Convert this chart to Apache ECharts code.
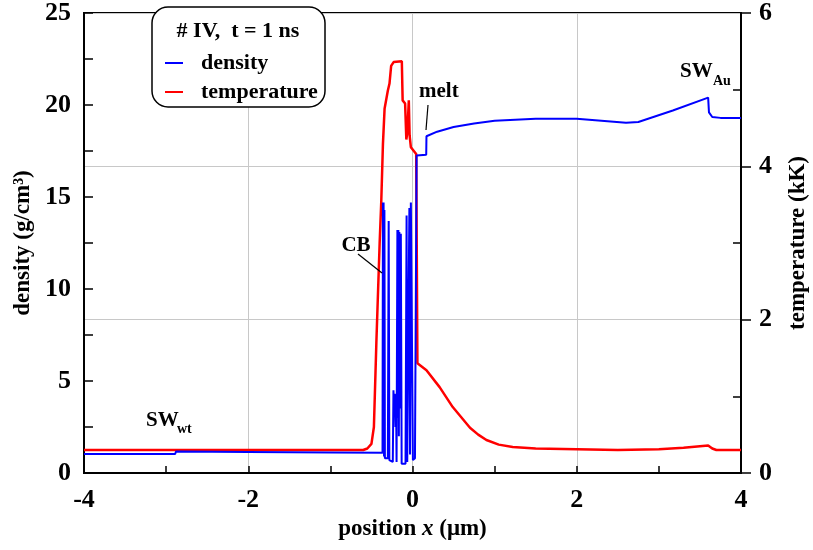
<!DOCTYPE html>
<html>
<head>
<meta charset="utf-8">
<script src="https://cdn.jsdelivr.net/npm/echarts@6/dist/echarts.min.js"></script>
<style>html,body{margin:0;padding:0;background:#fff}#c{width:813px;height:550px}</style>
</head>
<body>
<div id="c"></div>
<script>
// ---- data (position in µm) ----
const densityX = [-4.0,-2.89,-2.88,-2.0,-1.0,-0.365,-0.360,-0.356,-0.352,-0.347,-0.342,-0.336,-0.325,-0.300,-0.290,-0.282,-0.262,-0.240,-0.232,-0.224,-0.216,-0.208,-0.200,-0.194,-0.184,-0.178,-0.172,-0.166,-0.160,-0.150,-0.142,-0.132,-0.085,-0.072,-0.064,-0.050,-0.038,-0.030,-0.020,-0.008,0.005,0.030,0.050,0.167,0.170,0.30,0.50,0.75,1.0,1.5,2.0,2.3,2.6,2.75,3.17,3.60,3.61,3.65,3.75,4.0];
const densityY = [1.03,1.03,1.17,1.14,1.12,1.10,14.7,1.2,14.7,0.9,14.3,0.8,0.8,0.8,13.7,0.7,0.6,0.6,4.5,3.6,4.3,2.5,4.0,0.6,13.2,3.0,13.2,2.0,13.1,3.5,13.0,0.5,0.5,14.0,0.6,0.6,14.4,1.0,14.7,14.7,0.7,0.8,17.25,17.3,18.3,18.55,18.8,19.0,19.14,19.25,19.25,19.15,19.03,19.08,19.7,20.4,19.6,19.35,19.3,19.3];
const tempX = [-4.0,-2.0,-0.6,-0.55,-0.5,-0.47,-0.44,-0.40,-0.38,-0.36,-0.34,-0.30,-0.28,-0.26,-0.23,-0.13,-0.12,-0.09,-0.075,-0.062,-0.045,-0.035,-0.02,0.045,0.06,0.17,0.33,0.49,0.70,0.80,0.90,1.05,1.22,1.5,2.0,2.5,3.0,3.3,3.6,3.65,3.7,4.0];
const tempY = [0.30,0.30,0.30,0.32,0.38,0.6,1.7,3.0,3.55,4.29,4.75,4.99,5.08,5.31,5.36,5.37,4.86,4.82,4.35,4.45,4.86,4.4,4.25,4.16,1.43,1.34,1.12,0.86,0.59,0.5,0.43,0.37,0.34,0.32,0.31,0.30,0.31,0.33,0.36,0.32,0.30,0.30];
const legendTitle = '# IV,  t = 1 ns';
const seriesNames = ['density','temperature'];

const F = "'Liberation Serif','Times New Roman',serif";
const densityData = densityX.map((x,i)=>[x,densityY[i]]);
const tempData = tempX.map((x,i)=>[x,tempY[i]]);

const chart = echarts.init(document.getElementById('c'));
const lbl = {fontFamily:F,fontWeight:'bold',fontSize:26,color:'#000'};
const nm = {fontFamily:F,fontWeight:'bold',fontSize:23,color:'#000'};
chart.setOption({
  animation:false,
  backgroundColor:'#fff',
  grid:{left:84,right:72,top:13,bottom:77,containLabel:false,outerBoundsMode:'none',show:true,borderColor:'#000',borderWidth:2,backgroundColor:'transparent'},
  legend:{
    data:seriesNames, orient:'vertical', left:160, top:47, z:30,
    icon:'rect', itemWidth:18, itemHeight:2, itemGap:7,
    textStyle:{fontFamily:F,fontWeight:'bold',fontSize:22,color:'#000',lineHeight:22,padding:[0,0,0,13]}
  },
  xAxis:{
    type:'value', min:-4, max:4, interval:2,
    name:'{a|position }{b|x}{a| (μm)}', nameLocation:'middle', nameGap:44,
    nameTextStyle:{rich:{a:nm,b:Object.assign({},nm,{fontStyle:'italic'})}},
    axisLine:{onZero:false,lineStyle:{color:'#000',width:2}},
    axisTick:{inside:true,length:7,lineStyle:{color:'#000',width:1.5}},
    minorTick:{show:true,splitNumber:2,length:7,lineStyle:{color:'#000',width:1.5}},
    axisLabel:Object.assign({margin:14},lbl),
    splitLine:{show:true,lineStyle:{color:'#c8c8c8',width:1}}
  },
  yAxis:[
    {type:'value',position:'left',min:0,max:25,interval:5,
     name:'density (g/cm³)',nameLocation:'middle',nameGap:48,nameTextStyle:nm,
     axisLine:{show:true,onZero:false,lineStyle:{color:'#000',width:2}},
     axisTick:{inside:true,length:9,lineStyle:{color:'#000',width:1.5}},
     minorTick:{show:true,splitNumber:2,length:9,lineStyle:{color:'#000',width:1.5}},
     axisLabel:Object.assign({margin:13},lbl),
     splitLine:{show:false}},
    {type:'value',position:'right',min:0,max:6,interval:2,
     name:'temperature (kK)',nameLocation:'middle',nameGap:46,nameRotate:90,nameTextStyle:nm,
     axisLine:{show:true,onZero:false,lineStyle:{color:'#000',width:2}},
     axisTick:{inside:false,length:10,lineStyle:{color:'#000',width:1.5}},
     axisLabel:Object.assign({margin:18},lbl),
     splitLine:{show:true,lineStyle:{color:'#c8c8c8',width:1}}},
    {type:'value',position:'right',min:0,max:6,interval:2,
     axisLine:{show:false,onZero:false},
     axisTick:{show:true,inside:true,length:8,customValues:[1,3,5],lineStyle:{color:'#000',width:1.5}},
     axisLabel:{show:false},splitLine:{show:false}}
  ],
  series:[
    {name:'temperature',type:'line',yAxisIndex:1,data:tempData,showSymbol:false,symbol:'none',
     lineStyle:{color:'#ff0000',width:2.5},itemStyle:{color:'#ff0000'},z:3},
    {name:'density',type:'line',yAxisIndex:0,data:densityData,showSymbol:false,symbol:'none',
     lineStyle:{color:'#0000ff',width:2},itemStyle:{color:'#0000ff'},z:4}
  ],
  graphic:[
    {type:'rect',z:20,shape:{x:152,y:7,width:173,height:100,r:16},style:{fill:'#fff',stroke:'#000',lineWidth:1.5}},
    {type:'text',z:30,style:{x:238,y:31,text:legendTitle,fontFamily:F,fontWeight:'bold',fontSize:22,fill:'#000',align:'center',verticalAlign:'middle'}},
    {type:'text',z:30,style:{x:419,y:92,text:'melt',fontFamily:F,fontWeight:'bold',fontSize:21,fill:'#000',align:'left',verticalAlign:'middle'}},
    {type:'line',z:30,shape:{x1:428,y1:105,x2:426,y2:130},style:{stroke:'#000',lineWidth:1.2}},
    {type:'text',z:30,style:{x:356,y:246,text:'CB',fontFamily:F,fontWeight:'bold',fontSize:21,fill:'#000',align:'center',verticalAlign:'middle'}},
    {type:'line',z:30,shape:{x1:358,y1:254,x2:382,y2:273},style:{stroke:'#000',lineWidth:1.2}},
    {type:'text',z:30,style:{x:680,y:72,text:'SW',fontFamily:F,fontWeight:'bold',fontSize:21,fill:'#000',align:'left',verticalAlign:'middle'}},
    {type:'text',z:30,style:{x:713,y:81,text:'Au',fontFamily:F,fontWeight:'bold',fontSize:14,fill:'#000',align:'left',verticalAlign:'middle'}},
    {type:'text',z:30,style:{x:146,y:421,text:'SW',fontFamily:F,fontWeight:'bold',fontSize:21,fill:'#000',align:'left',verticalAlign:'middle'}},
    {type:'text',z:30,style:{x:177,y:429,text:'wt',fontFamily:F,fontWeight:'bold',fontSize:14,fill:'#000',align:'left',verticalAlign:'middle'}}
  ]
});
</script>
</body>
</html>
